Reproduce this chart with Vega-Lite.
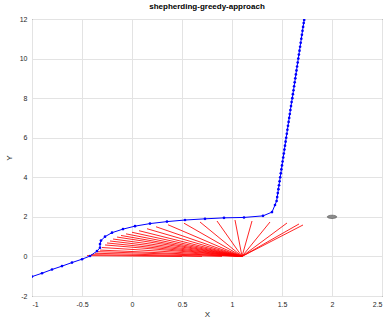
{
  "$schema": "https://vega.github.io/schema/vega-lite/v6.json",
  "autosize": {"type": "none"},
  "padding": {"left": 32, "top": 19, "right": 6, "bottom": 24},
  "width": 350,
  "height": 277,
  "title": {"text": "shepherding-greedy-approach", "fontSize": 8, "fontWeight": "bold", "font": "Liberation Sans", "color": "#000000", "offset": 4},
  "config": {
    "view": {"stroke": "#262626", "strokeWidth": 1},
    "axis": {
      "domain": false, "ticks": false, "grid": true, "gridColor": "#e3e3e3", "gridWidth": 1,
      "labelFont": "Liberation Sans", "labelFontSize": 7, "labelColor": "#262626",
      "titleFont": "Liberation Sans", "titleFontSize": 8, "titleFontWeight": "normal", "titleColor": "#262626"
    }
  },
  "datasets": {
    "dog": [
      {"i": 1, "x": -1.0, "y": -1.02}, {"i": 2, "x": -0.9, "y": -0.85}, {"i": 3, "x": -0.8, "y": -0.66},
      {"i": 4, "x": -0.7, "y": -0.49}, {"i": 5, "x": -0.6, "y": -0.31}, {"i": 6, "x": -0.5, "y": -0.14},
      {"i": 7, "x": -0.42, "y": 0.02}, {"i": 8, "x": -0.35, "y": 0.27}, {"i": 9, "x": -0.32, "y": 0.44},
      {"i": 10, "x": -0.32, "y": 0.63}, {"i": 11, "x": -0.31, "y": 0.8}, {"i": 12, "x": -0.27, "y": 1.0},
      {"i": 13, "x": -0.2, "y": 1.2}, {"i": 14, "x": -0.09, "y": 1.38}, {"i": 15, "x": 0.03, "y": 1.53},
      {"i": 16, "x": 0.18, "y": 1.66}, {"i": 17, "x": 0.35, "y": 1.76}, {"i": 18, "x": 0.53, "y": 1.84},
      {"i": 19, "x": 0.73, "y": 1.9}, {"i": 20, "x": 0.92, "y": 1.95}, {"i": 21, "x": 1.12, "y": 1.97},
      {"i": 22, "x": 1.31, "y": 2.05}, {"i": 23, "x": 1.4, "y": 2.24}, {"i": 24, "x": 1.43, "y": 2.6},
      {"i": 25, "x": 1.446, "y": 2.8}, {"i": 26, "x": 1.452, "y": 3.0}, {"i": 27, "x": 1.458, "y": 3.2},
      {"i": 28, "x": 1.464, "y": 3.4}, {"i": 29, "x": 1.47, "y": 3.6}, {"i": 30, "x": 1.476, "y": 3.8},
      {"i": 31, "x": 1.482, "y": 4.0}, {"i": 32, "x": 1.488, "y": 4.2}, {"i": 33, "x": 1.494, "y": 4.4},
      {"i": 34, "x": 1.5, "y": 4.6}, {"i": 35, "x": 1.506, "y": 4.8}, {"i": 36, "x": 1.512, "y": 5.0},
      {"i": 37, "x": 1.518, "y": 5.2}, {"i": 38, "x": 1.524, "y": 5.4}, {"i": 39, "x": 1.53, "y": 5.6},
      {"i": 40, "x": 1.536, "y": 5.8}, {"i": 41, "x": 1.542, "y": 6.0}, {"i": 42, "x": 1.548, "y": 6.2},
      {"i": 43, "x": 1.554, "y": 6.4}, {"i": 44, "x": 1.56, "y": 6.6}, {"i": 45, "x": 1.566, "y": 6.8},
      {"i": 46, "x": 1.572, "y": 7.0}, {"i": 47, "x": 1.578, "y": 7.2}, {"i": 48, "x": 1.584, "y": 7.4},
      {"i": 49, "x": 1.59, "y": 7.6}, {"i": 50, "x": 1.596, "y": 7.8}, {"i": 51, "x": 1.603, "y": 8.0},
      {"i": 52, "x": 1.609, "y": 8.2}, {"i": 53, "x": 1.615, "y": 8.4}, {"i": 54, "x": 1.621, "y": 8.6},
      {"i": 55, "x": 1.627, "y": 8.8}, {"i": 56, "x": 1.633, "y": 9.0}, {"i": 57, "x": 1.639, "y": 9.2},
      {"i": 58, "x": 1.645, "y": 9.4}, {"i": 59, "x": 1.651, "y": 9.6}, {"i": 60, "x": 1.657, "y": 9.8},
      {"i": 61, "x": 1.663, "y": 10.0}, {"i": 62, "x": 1.669, "y": 10.2}, {"i": 63, "x": 1.675, "y": 10.4},
      {"i": 64, "x": 1.681, "y": 10.6}, {"i": 65, "x": 1.687, "y": 10.8}, {"i": 66, "x": 1.693, "y": 11.0},
      {"i": 67, "x": 1.699, "y": 11.2}, {"i": 68, "x": 1.705, "y": 11.4}, {"i": 69, "x": 1.711, "y": 11.6},
      {"i": 70, "x": 1.717, "y": 11.8}, {"i": 71, "x": 1.722, "y": 11.95}
    ],
    "links": [
      {"x": -0.45, "y": 0.04, "x2": 0.5, "y2": 0.0},
      {"x": -0.41, "y": 0.09, "x2": 0.7, "y2": 0.0},
      {"x": -0.37, "y": 0.16, "x2": 0.9, "y2": 0.0},
      {"x": -0.34, "y": 0.24, "x2": 1.1, "y2": 0.0},
      {"x": -0.32, "y": 0.32, "x2": 1.1, "y2": 0.0},
      {"x": -0.3, "y": 0.45, "x2": 1.1, "y2": 0.0},
      {"x": -0.27, "y": 0.58, "x2": 1.1, "y2": 0.0},
      {"x": -0.25, "y": 0.68, "x2": 1.1, "y2": 0.0},
      {"x": -0.22, "y": 0.78, "x2": 1.1, "y2": 0.0},
      {"x": -0.19, "y": 0.88, "x2": 1.1, "y2": 0.0},
      {"x": -0.15, "y": 0.98, "x2": 1.1, "y2": 0.0},
      {"x": -0.11, "y": 1.06, "x2": 1.1, "y2": 0.0},
      {"x": -0.06, "y": 1.14, "x2": 1.1, "y2": 0.0},
      {"x": 0.0, "y": 1.22, "x2": 1.1, "y2": 0.0},
      {"x": 0.07, "y": 1.3, "x2": 1.1, "y2": 0.0},
      {"x": 0.15, "y": 1.4, "x2": 1.1, "y2": 0.0},
      {"x": 0.24, "y": 1.5, "x2": 1.1, "y2": 0.0},
      {"x": 0.36, "y": 1.6, "x2": 1.1, "y2": 0.0},
      {"x": 0.52, "y": 1.68, "x2": 1.1, "y2": 0.0},
      {"x": 0.68, "y": 1.74, "x2": 1.1, "y2": 0.0},
      {"x": 0.85, "y": 1.79, "x2": 1.1, "y2": 0.0},
      {"x": 1.03, "y": 1.84, "x2": 1.1, "y2": 0.0},
      {"x": 1.2, "y": 1.79, "x2": 1.1, "y2": 0.0},
      {"x": 1.38, "y": 1.74, "x2": 1.1, "y2": 0.0},
      {"x": 1.55, "y": 1.69, "x2": 1.1, "y2": 0.0},
      {"x": 1.67, "y": 1.64, "x2": 1.1, "y2": 0.0},
      {"x": 1.71, "y": 1.59, "x2": 1.1, "y2": 0.0}
    ],
    "goal": [{"x": 2.0, "y": 2.0}]
  },
  "encoding": {
    "x": {"field": "x", "type": "quantitative", "scale": {"domain": [-1, 2.5], "nice": false, "zero": false},
      "axis": {"values": [-1, -0.5, 0, 0.5, 1, 1.5, 2, 2.5], "labelExpr": "'' + datum.value", "labelPadding": 4, "title": "X", "titlePadding": 3}},
    "y": {"field": "y", "type": "quantitative", "scale": {"domain": [-2, 12], "nice": false, "zero": false},
      "axis": {"values": [-2, 0, 2, 4, 6, 8, 10, 12], "labelExpr": "'' + datum.value", "labelPadding": 5, "title": "Y", "titlePadding": 6}}
  },
  "layer": [
    {
      "data": {"name": "links"},
      "mark": {"type": "rule", "color": "#ff0000", "strokeWidth": 1, "opacity": 0.85, "clip": true},
      "encoding": {"x2": {"field": "x2"}, "y2": {"field": "y2"}}
    },
    {
      "data": {"name": "dog"},
      "mark": {"type": "line", "color": "#0000ff", "strokeWidth": 1, "clip": true,
        "point": {"filled": true, "color": "#0000ff", "size": 7}},
      "encoding": {"order": {"field": "i", "type": "quantitative"}}
    },
    {
      "data": {"name": "goal"},
      "mark": {"type": "point", "filled": true, "color": "#8c8c8c", "stroke": "#4d4d4d", "strokeWidth": 0.6, "opacity": 1,
        "shape": "M-1,0A1,0.35 0 1,1 1,0A1,0.35 0 1,1 -1,0Z", "size": 90}
    }
  ]
}
